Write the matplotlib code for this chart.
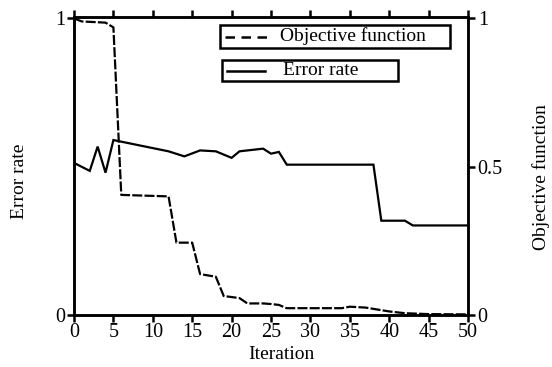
import matplotlib
matplotlib.use("Agg")
import matplotlib.pyplot as plt
from matplotlib.lines import Line2D
from matplotlib.patches import Rectangle

plt.rcParams['font.family'] = ['Liberation Serif', 'DejaVu Serif']
plt.rcParams['font.size'] = 12

err_iter = [0, 2, 3, 4, 5, 12, 14, 16, 18, 20, 21, 24, 25, 26, 27, 38, 39, 42, 43, 50]
err_vals = [0.513, 0.486, 0.568, 0.48, 0.59, 0.552, 0.535, 0.555, 0.552, 0.53, 0.552,
            0.561, 0.544, 0.55, 0.507, 0.507, 0.318, 0.318, 0.302, 0.302]

obj_iter = [0, 1, 4, 5, 6, 12, 13, 15, 16, 18, 19, 21, 22, 24, 25, 26, 27, 34, 35, 37, 40, 42, 45, 50]
obj_vals = [1.0, 0.99, 0.986, 0.97, 0.405, 0.40, 0.244, 0.244, 0.138, 0.129, 0.064, 0.057,
            0.039, 0.039, 0.037, 0.034, 0.023, 0.023, 0.028, 0.025, 0.012, 0.006, 0.003, 0.002]

xticks = [0, 5, 10, 15, 20, 25, 30, 35, 40, 45, 50]
left_ticks = [0, 1]
right_ticks = [0, 0.5, 1]

W, H = 552, 367
AX0, AX1, AY0, AY1 = 74, 468, 17, 315
fig = plt.figure(figsize=(W / 100, H / 100), dpi=100)
ax = fig.add_axes([AX0 / W, 1 - AY1 / H, (AX1 - AX0) / W, (AY1 - AY0) / H])
ax2 = ax.twinx()

ax.plot(err_iter, err_vals, color='black', lw=1.6, solid_joinstyle='miter')
ax2.plot(obj_iter, obj_vals, color='black', lw=1.6, linestyle=(0, (4.5, 1.0)))

ax.set_xlim(0, 50)
ax.set_ylim(0, 1.005)
ax2.set_ylim(0, 1.005)
ax.set_xticks(xticks)
ax.set_xticklabels([str(t) for t in xticks], fontsize=14.5)
ax.set_yticks(left_ticks)
ax.set_yticklabels(['0', '1'], fontsize=14.5)
ax2.set_yticks(right_ticks)
ax2.set_yticklabels(['0', '0.5', '1'], fontsize=14.5)

for a in (ax, ax2):
    for s in a.spines.values():
        s.set_linewidth(1.8)
ax.tick_params(axis='both', direction='out', width=1.8, length=5, pad=1, top=True)
ax2.tick_params(axis='y', direction='out', width=1.8, length=5, pad=2)


def axfx(xp):
    return (xp - AX0) / (AX1 - AX0)


def axfy(yp):
    return (AY1 - yp) / (AY1 - AY0)


ax.set_xlabel('Iteration', fontsize=14)
ax.xaxis.set_label_coords(axfx(281), axfy(346))
ax.set_ylabel('Error rate', fontsize=14)
ax.yaxis.set_label_coords(axfx(28), axfy(181))
ax2.set_ylabel('Objective function', fontsize=14)
ax2.yaxis.set_label_coords(axfx(532), axfy(177))


def px(x, y):
    return x / W, 1 - y / H


def legend_box(x0, y0, x1, y1, hx0, hx1, tx, label, ls):
    fx0, fy1 = px(x0, y0)
    fx1, fy0 = px(x1, y1)
    fig.patches.append(Rectangle((fx0, fy0), fx1 - fx0, fy1 - fy0, transform=fig.transFigure,
                                 fill=True, facecolor='white', edgecolor='black', lw=1.8))
    yc = (y0 + y1) / 2
    a, b = px(hx0, yc)
    c, _ = px(hx1, yc)
    fig.lines.append(Line2D([a, c], [b, b], transform=fig.transFigure, color='black',
                            lw=1.8, linestyle=ls))
    tx_, ty_ = px(tx, yc)
    fig.text(tx_, ty_, label, fontsize=14, va='center', ha='left')


legend_box(220, 25, 450, 48, 225, 267, 280, 'Objective function', (0, (3.8, 2.6)))
legend_box(222, 60, 398, 81, 227, 265, 283, 'Error rate', '-')

fig.savefig('out.png', dpi=100)
